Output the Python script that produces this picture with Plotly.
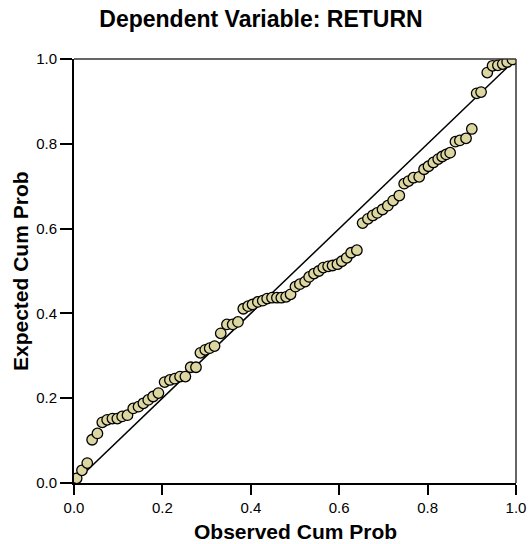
import plotly.graph_objects as go

observed = [0.006, 0.018, 0.030, 0.041, 0.053, 0.064, 0.075, 0.087, 0.098, 0.109,
            0.121, 0.134, 0.146, 0.157, 0.168, 0.179, 0.191, 0.205, 0.217, 0.228,
            0.240, 0.252, 0.264, 0.276, 0.286, 0.297, 0.307, 0.318, 0.332,
            0.346, 0.359, 0.371, 0.383, 0.394, 0.404, 0.416, 0.427, 0.437, 0.448,
            0.459, 0.469, 0.480, 0.490, 0.501, 0.511, 0.523, 0.532, 0.543, 0.554,
            0.564, 0.575, 0.585, 0.596, 0.606, 0.617, 0.627, 0.640,
            0.653, 0.665, 0.676, 0.686, 0.698, 0.710, 0.722, 0.736, 0.747, 0.757,
            0.768, 0.781, 0.792, 0.802, 0.813, 0.824, 0.833, 0.842, 0.851, 0.863,
            0.873, 0.887, 0.900, 0.911, 0.921, 0.935, 0.947, 0.959, 0.970, 0.980, 0.992]
expected = [0.011, 0.030, 0.047, 0.102, 0.117, 0.143, 0.149, 0.152, 0.152, 0.157,
            0.160, 0.176, 0.180, 0.188, 0.196, 0.204, 0.212, 0.238, 0.243, 0.246,
            0.251, 0.251, 0.273, 0.273, 0.307, 0.314, 0.318, 0.323, 0.353,
            0.374, 0.374, 0.380, 0.411, 0.417, 0.421, 0.427, 0.430, 0.435, 0.437,
            0.437, 0.437, 0.439, 0.445, 0.463, 0.469, 0.475, 0.486, 0.494, 0.500,
            0.508, 0.511, 0.513, 0.516, 0.523, 0.531, 0.543, 0.549,
            0.613, 0.623, 0.631, 0.637, 0.645, 0.654, 0.666, 0.678, 0.706, 0.712,
            0.720, 0.722, 0.740, 0.747, 0.756, 0.764, 0.770, 0.775, 0.779, 0.805,
            0.808, 0.813, 0.835, 0.919, 0.922, 0.968, 0.984, 0.985, 0.988, 0.993, 0.999]
diag = [0.0, 1.0]
tick_vals = [0.0, 0.2, 0.4, 0.6, 0.8, 1.0]
tick_text = ["0.0", "0.2", "0.4", "0.6", "0.8", "1.0"]

FONT = "Arial, Liberation Sans, sans-serif"

fig = go.Figure()
fig.add_trace(go.Scatter(x=diag, y=diag, mode="lines",
                         line=dict(color="black", width=1.5),
                         hoverinfo="skip", showlegend=False))
fig.add_trace(go.Scatter(x=observed, y=expected, mode="markers",
                         marker=dict(size=10.5, color="#DCD6A0",
                                     line=dict(color="black", width=1.3)),
                         showlegend=False))

W, H = 530, 544
L, R, T, B = 74, 14, 59, 61

fig.update_layout(
    width=W, height=H,
    margin=dict(l=L, r=R, t=T, b=B, autoexpand=False),
    paper_bgcolor="white", plot_bgcolor="white",
    font=dict(family=FONT, color="black"),
    title=dict(text="<b>Dependent Variable: RETURN</b>",
               font=dict(size=23, family=FONT, color="black"),
               x=261 / W, xref="container", xanchor="center",
               y=1 - 19 / H, yref="container", yanchor="middle"),
    xaxis=dict(range=[0, 1], tickvals=tick_vals, ticktext=tick_text,
               showgrid=False, zeroline=False, showline=True,
               linecolor="black", linewidth=2, automargin=False,
               ticks="outside", ticklen=10, tickwidth=1.5, tickcolor="black",
               tickfont=dict(size=15, family=FONT, color="black")),
    yaxis=dict(range=[0, 1], tickvals=tick_vals, ticktext=tick_text,
               showgrid=False, zeroline=False, showline=True,
               linecolor="black", linewidth=2, automargin=False,
               ticks="outside", ticklen=12, tickwidth=1.5, tickcolor="black",
               tickfont=dict(size=15, family=FONT, color="black")),
    shapes=[
        dict(type="line", xref="paper", yref="paper", x0=0, x1=1, y0=1, y1=1,
             line=dict(color="#333333", width=1.5)),
        dict(type="line", xref="paper", yref="paper", x0=1, x1=1, y0=0, y1=1,
             line=dict(color="#333333", width=1.5)),
    ],
    annotations=[
        dict(text="<b>Observed Cum Prob</b>", xref="paper", yref="paper",
             x=0.5, y=(483 - 531) / (H - T - B), xanchor="center", yanchor="middle",
             showarrow=False, font=dict(size=21, family=FONT, color="black")),
        dict(text="<b>Expected Cum Prob</b>", xref="paper", yref="paper",
             x=(20 - L) / (W - L - R), y=0.5, xanchor="center", yanchor="middle",
             textangle=-90,
             showarrow=False, font=dict(size=21, family=FONT, color="black")),
    ],
)

fig.write_html("out.html", config={"displayModeBar": False},
               post_script="document.body.style.margin='0';document.body.style.padding='0';")
